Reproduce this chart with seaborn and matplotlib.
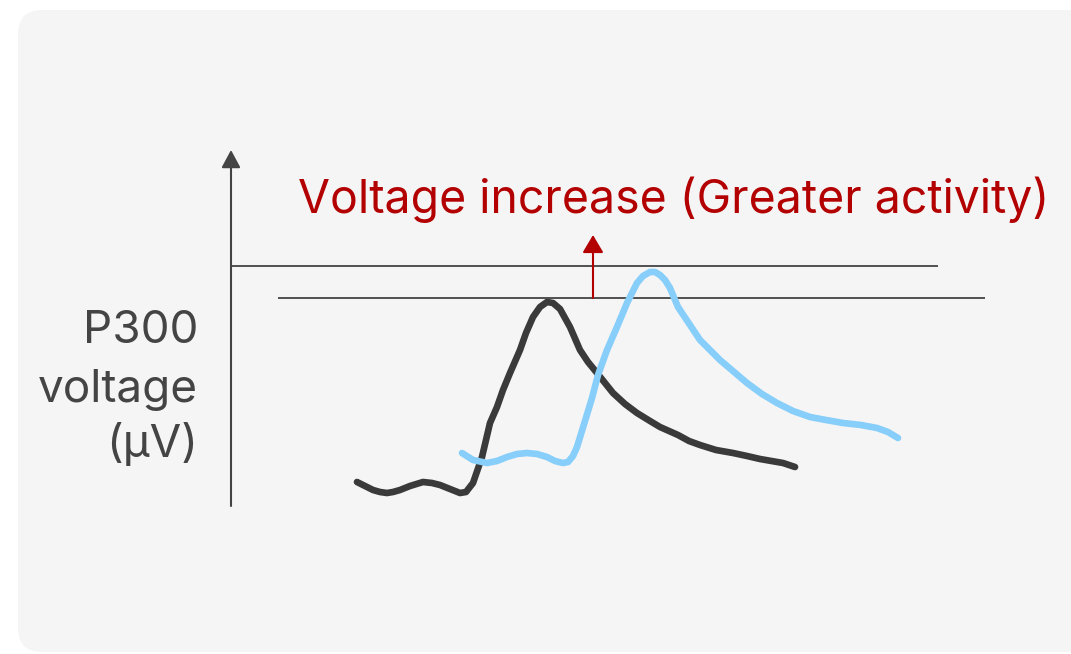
import numpy as np
import pandas as pd
import seaborn as sns
import matplotlib.pyplot as plt
from matplotlib.patches import FancyBboxPatch
from matplotlib.transforms import IdentityTransform

# latency (arbitrary units) and P300 voltage (arbitrary units)
baseline_t = [126, 142, 149, 156, 162, 169, 179, 192, 201, 209, 219, 229, 235, 242, 251,
              259, 266, 272, 279, 289, 295, 302, 309, 316, 322, 329, 339, 349, 357, 366,
              382, 394, 406, 419, 429, 438, 447, 458, 469, 485, 502, 516, 529, 552, 564]
baseline_v = [24, 16, 14, 13, 14, 16, 20, 24, 23, 21, 17, 13, 14, 23, 49,
              83, 99, 116, 133, 156, 173, 189, 199, 204, 203, 197, 179, 156, 144, 133,
              113, 102, 93, 85, 79, 75, 71, 65, 61, 56, 53, 50, 47, 43, 39]

increased_t = [231, 242, 256, 266, 276, 286, 296, 306, 316, 324, 332, 337, 342, 346, 354,
               361, 367, 376, 386, 396, 406, 412, 419, 424, 429, 434, 439, 447, 459, 469,
               489, 516, 531, 546, 562, 579, 595, 612, 630, 646, 657, 667]
increased_v = [53, 46, 43, 45, 49, 52, 53, 52, 49, 45, 43, 44, 50, 59, 85,
               108, 131, 156, 179, 203, 223, 230, 234, 234, 231, 226, 218, 199, 181, 166,
               146, 123, 112, 103, 95, 89, 86, 83, 81, 78, 74, 68]

peak_levels = [208, 240]
level_start = [47, 0]
level_end = [754, 707]

title = "Voltage increase (Greater activity)"
ylabel_lines = ["P300", "voltage", "(µV)"]

sns.set_theme(style="white")
plt.rcParams["font.family"] = ["Inter", "DejaVu Sans"]

gray = "#444444"
red = "#b30000"

fig = plt.figure(figsize=(10.71, 6.54), dpi=100)
fig.patch.set_facecolor("white")

bg = FancyBboxPatch((18, 2), 1100, 642, boxstyle="round,pad=0,rounding_size=24",
                    transform=IdentityTransform(), facecolor="#f5f5f5", edgecolor="none",
                    zorder=-10)
fig.add_artist(bg)

ax = fig.add_axes([231 / 1071, 148 / 654, 840 / 1071, 356 / 654])
ax.set_xlim(0, 840)
ax.set_ylim(0, 356)
ax.axis("off")

# y axis arrow
ax.annotate("", xy=(0, 356), xytext=(0, 0), annotation_clip=False,
            arrowprops=dict(arrowstyle="-|>,head_length=0.54,head_width=0.29",
                            mutation_scale=20, color=gray, lw=1.5, shrinkA=0, shrinkB=0))

for lev, a, b in zip(peak_levels, level_start, level_end):
    ax.plot([a, b], [lev, lev], color="#505050", lw=1.4, clip_on=False,
            solid_capstyle="butt")
n_ref = len(ax.lines)

df_base = pd.DataFrame({"t": baseline_t, "v": baseline_v})
df_inc = pd.DataFrame({"t": increased_t, "v": increased_v})
sns.lineplot(data=df_base, x="t", y="v", sort=False, ax=ax, color="#3a3a3a")
sns.lineplot(data=df_inc, x="t", y="v", sort=False, ax=ax, color="#87cefa")
for ln in ax.lines[n_ref:]:
    ln.set_linewidth(4.8)
    ln.set_solid_capstyle("round")
    ln.set_solid_joinstyle("round")
    ln.set_clip_on(False)

# increase arrow
ax.annotate("", xy=(362, 271), xytext=(362, peak_levels[0]), annotation_clip=False,
            arrowprops=dict(arrowstyle="-|>,head_length=0.54,head_width=0.32",
                            mutation_scale=20, color=red, lw=1.5, shrinkA=0, shrinkB=0))

ax.text(67, 293, title, color=red, fontsize=33.4, ha="left", va="baseline", clip_on=False)

for line, yb in zip(ylabel_lines, [163, 104, 49]):
    ax.text(-33, yb, line, color=gray, fontsize=33, ha="right", va="baseline", clip_on=False)

ax.set_xlabel("")
ax.set_ylabel("")
fig.savefig("out.png", dpi=100, facecolor="white")
